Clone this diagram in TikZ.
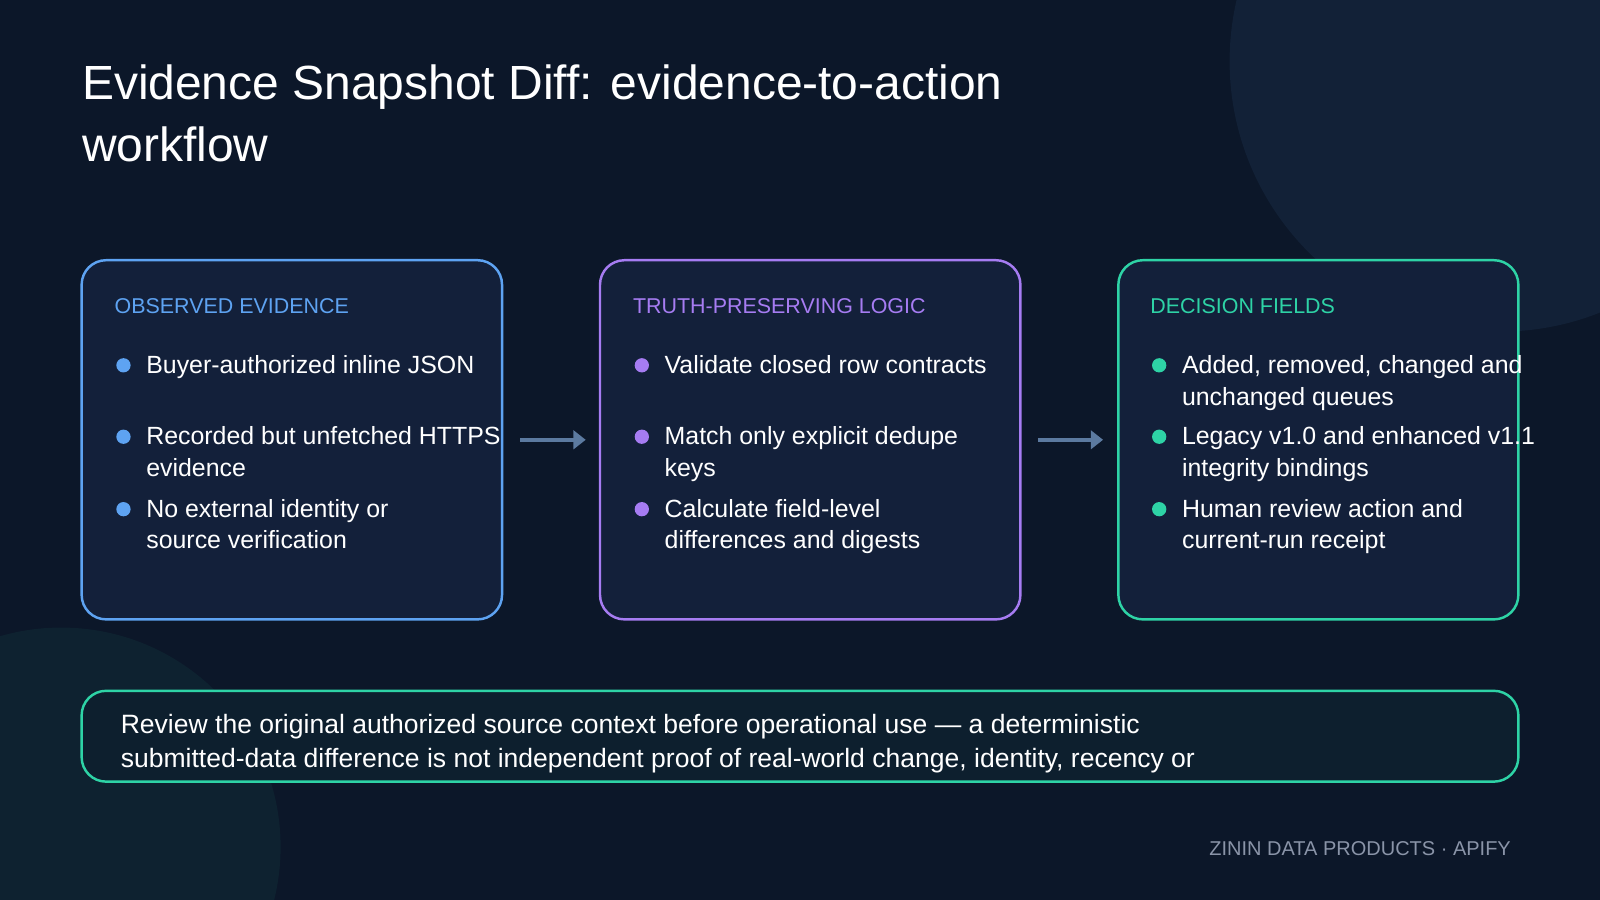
\documentclass[tikz,border=0pt]{standalone}
\usepackage{fontspec}
\setmainfont{Liberation Sans}
\usetikzlibrary{arrows.meta}
\definecolor{bg}{HTML}{0C1729}
\definecolor{boxbg}{HTML}{13203A}
\definecolor{cblue}{HTML}{5EA3F2}
\definecolor{cpurp}{HTML}{A67CF2}
\definecolor{cteal}{HTML}{2ED3A6}
\definecolor{arr}{HTML}{5C7AA0}
\definecolor{foot}{HTML}{8A94A8}
\begin{document}
\begin{tikzpicture}[x=0.5pt,y=-0.5pt,
  card/.style={draw=#1,line width=1.2pt,fill=boxbg,rounded corners=12pt},
  head/.style={anchor=base west,inner sep=0,font=\fontsize{10.5}{13}\selectfont,text=#1},
  item/.style={anchor=base west,inner sep=0,align=left,text=white,font=\fontsize{12.2}{15.5}\selectfont},
  dot/.style={circle,fill=#1,inner sep=0,minimum size=7pt},
  flow/.style={draw=arr,line width=1.8pt,-{Triangle[length=6pt,width=9pt]}}]
\fill[bg] (0,0) rectangle (1568,882);
\useasboundingbox (0,0) rectangle (1568,882);
\begin{scope}
\clip (0,0) rectangle (1568,882);
\fill[color=cblue!7!bg] (1470,60) circle (265);
\fill[color=cteal!6!bg] (60,830) circle (215);
\end{scope}
\node[anchor=base west,inner sep=0,text=white,align=left,font=\fontsize{23.5}{30}\selectfont] (title) at (80,158) {Evidence Snapshot Diff: evidence-to-action\\workflow};
% cards
\draw[card=cblue] (80,255) rectangle (492,607);
\draw[card=cpurp] (588,255) rectangle (1000,607);
\draw[card=cteal] (1096,255) rectangle (1488,607);
\coordinate (a1s) at (510,431); \coordinate (a1e) at (574,431);
\coordinate (a2s) at (1017,431); \coordinate (a2e) at (1081,431);
\draw[flow] (a1s) -- (a1e);
\draw[flow] (a2s) -- (a2e);
% card 1
\node[head=cblue] (h1) at (112,307) {OBSERVED EVIDENCE};
\node[dot=cblue] (d11) at (121,358) {}; \node[item] (t11) at (143,366) {Buyer-authorized inline JSON};
\node[dot=cblue] (d12) at (121,428) {}; \node[item] (t12) at (143,467) {Recorded but unfetched HTTPS\\evidence};
\node[dot=cblue] (d13) at (121,499) {}; \node[item] (t13) at (143,538) {No external identity or\\source verification};
% card 2
\node[head=cpurp] (h2) at (620,307) {TRUTH-PRESERVING LOGIC};
\node[dot=cpurp] (d21) at (629,358) {}; \node[item] (t21) at (651,366) {Validate closed row contracts};
\node[dot=cpurp] (d22) at (629,428) {}; \node[item] (t22) at (651,467) {Match only explicit dedupe\\keys};
\node[dot=cpurp] (d23) at (629,499) {}; \node[item] (t23) at (651,538) {Calculate field-level\\differences and digests};
% card 3
\node[head=cteal] (h3) at (1127,307) {DECISION FIELDS};
\node[dot=cteal] (d31) at (1136,358) {}; \node[item] (t31) at (1158,397) {Added, removed, changed and\\unchanged queues};
\node[dot=cteal] (d32) at (1136,428) {}; \node[item] (t32) at (1158,467) {Legacy v1.0 and enhanced v1.1\\integrity bindings};
\node[dot=cteal] (d33) at (1136,499) {}; \node[item] (t33) at (1158,538) {Human review action and\\current-run receipt};
% bottom
\draw[card=cteal,fill=cteal!4!bg] (80,677) rectangle (1488,766);
\node[item,font=\fontsize{13}{16.5}\selectfont] (note) at (118,752) {Review the original authorized source context before operational use — a deterministic\\submitted-data difference is not independent proof of real-world change, identity, recency or};
\node[anchor=base east,inner sep=0,text=foot,font=\fontsize{9.8}{12}\selectfont] (foot) at (1481,838) {ZININ DATA PRODUCTS · APIFY};
\end{tikzpicture}
\end{document}
